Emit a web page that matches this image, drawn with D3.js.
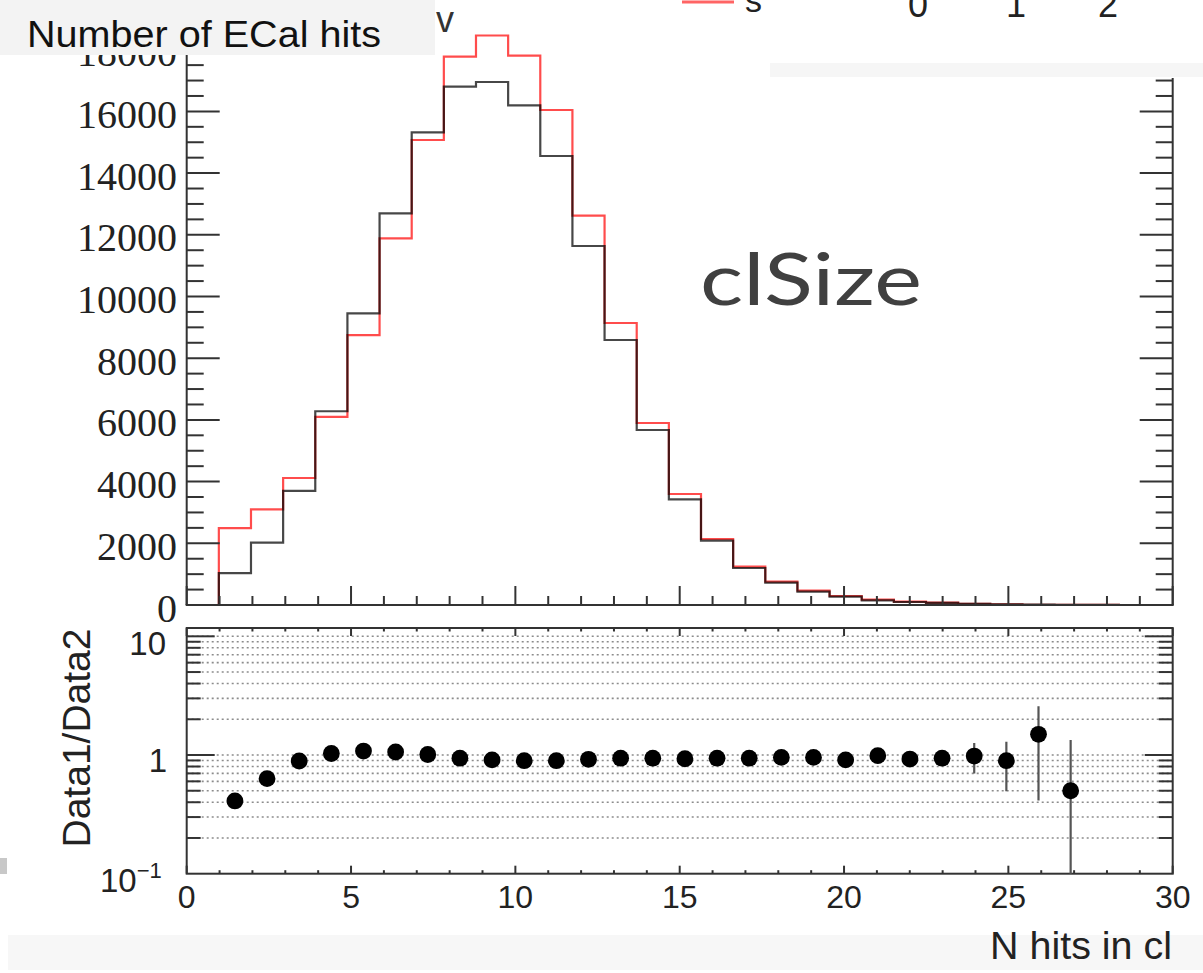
<!DOCTYPE html>
<html><head><meta charset="utf-8">
<script src="https://cdn.jsdelivr.net/npm/d3@7"></script>
<style>html,body{margin:0;padding:0;background:#fff;overflow:hidden}</style>
</head><body>
<svg id="c" width="1203" height="973" xmlns="http://www.w3.org/2000/svg"></svg>
<script>
// ---- data ----
const binWidth = 0.978;   // histogram bin width in axis units
const data1Counts = [0, 1030, 2020, 3700, 6280, 9455, 12697, 15322, 16800, 16953, 16197, 14554, 11637, 8590, 5672, 3426, 2085, 1199, 723, 431, 270, 152, 98, 68, 38, 22, 12, 4, 2, 0, 0];
const data2Counts = [0, 2490, 3100, 4117, 6100, 8750, 11886, 15073, 17774, 18460, 17807, 16045, 12620, 9141, 5900, 3598, 2139, 1242, 756, 464, 292, 173, 108, 75, 40, 25, 8, 8, 1, 0, 0];
const ratioBins   = [1,2,3,4,5,6,7,8,9,10,11,12,13,14,15,16,17,18,19,20,21,22,23,24,25,26,27];
const ratioValues = [0.41,0.632,0.89,1.03,1.08,1.06,1.01,0.94,0.91,0.895,0.895,0.92,0.94,0.94,0.93,0.94,0.94,0.955,0.955,0.91,0.987,0.925,0.94,0.98,0.895,1.494,0.5];
const ratioErrors = [0.015,0.02,0.02,0.02,0.015,0.015,0.012,0.012,0.011,0.011,0.012,0.013,0.015,0.018,0.023,0.03,0.04,0.05,0.06,0.07,0.08,0.1,0.12,0.28,0.40,1.08,0.84];
const xTickLabels = [0,5,10,15,20,25,30];
const topYTickLabels = [0,2000,4000,6000,8000,10000,12000,14000,16000,18000];
const ratioGridValues = [0.2,0.3,0.4,0.5,0.6,0.7,0.8,0.9,1,2,3,4,5,6,7,8,9,10];
const titleText = "Number of ECal hits";
const xAxisTitle = "N hits in cl";
const ratioAxisTitle = "Data1/Data2";
const overlayText = "clSize";
const legendDigits = ["0","1","2"];

// ---- scales ----
const svg = d3.select("#c");
const X0 = 186.7, X1 = 1172.7;
const x = d3.scaleLinear().domain([0, 30]).range([X0, X1]);
const yTop = d3.scaleLinear().domain([0, 19708]).range([605, -3]);
const yR = d3.scaleLog().domain([0.1, 11.75]).range([873.7, 628]);
const frameCol = "#333";

svg.append("rect").attr("width",1203).attr("height",973).attr("fill","#fff");

const defs = svg.append("defs");
defs.append("clipPath").attr("id","clipTop").append("rect")
  .attr("x",X0).attr("y",-10).attr("width",X1-X0).attr("height",615);
defs.append("clipPath").attr("id","clipR").append("rect")
  .attr("x",X0).attr("y",628).attr("width",X1-X0).attr("height",873.7-628);

// ---- top panel histograms ----
function stepPoints(counts){
  const pts = counts.map((c,i)=>[i*binWidth, c]);
  pts.push([counts.length*binWidth, counts[counts.length-1]]);
  return pts;
}
const line = d3.line().x(d=>x(d[0])).y(d=>yTop(d[1])).curve(d3.curveStepAfter);
const gh = svg.append("g").attr("clip-path","url(#clipTop)");
gh.append("path").attr("d", line(stepPoints(data2Counts)))
  .attr("fill","none").attr("stroke","#ff0000").attr("stroke-opacity",0.7).attr("stroke-width",2.2);
gh.append("path").attr("d", line(stepPoints(data1Counts)))
  .attr("fill","none").attr("stroke","#000").attr("stroke-opacity",0.72).attr("stroke-width",2.2);

// top panel frame (left, right, bottom)
const gt = svg.append("g").attr("stroke",frameCol).attr("stroke-width",2).attr("fill","none");
gt.append("line").attr("x1",X0).attr("x2",X0).attr("y1",yTop.range()[1]).attr("y2",605);
gt.append("line").attr("x1",X1).attr("x2",X1).attr("y1",yTop.range()[1]).attr("y2",605);
gt.append("line").attr("x1",X0-1).attr("x2",X1+1).attr("y1",605).attr("y2",605);

// top y ticks (minor every 500, major every 2000)
const yMinor = d3.range(0, 19501, 500);
yMinor.forEach(v=>{
  const len = (v % 2000 === 0) ? 33 : 17;
  gt.append("line").attr("x1",X0).attr("x2",X0+len).attr("y1",yTop(v)).attr("y2",yTop(v));
  gt.append("line").attr("x1",X1).attr("x2",X1-len).attr("y1",yTop(v)).attr("y2",yTop(v));
});
// top x ticks
d3.range(0, 31, 1).forEach(v=>{
  const len = (v % 5 === 0) ? 19 : 9;
  gt.append("line").attr("x1",x(v)).attr("x2",x(v)).attr("y1",605).attr("y2",605-len);
});
svg.append("g").selectAll("text").data(topYTickLabels).join("text")
  .attr("x",177).attr("y",d=>yTop(d)+16.5).attr("text-anchor","end")
  .attr("font-family","'Liberation Serif', 'DejaVu Serif', serif").attr("font-size",40)
  .attr("fill","#222").text(d=>d);

// ---- ratio panel ----
const gr = svg.append("g");
gr.selectAll("line.grid").data(ratioGridValues).join("line").attr("class","grid")
  .attr("x1",X0).attr("x2",X1).attr("y1",d=>yR(d)).attr("y2",d=>yR(d))
  .attr("stroke","#8c8c8c").attr("stroke-width",1.6).attr("stroke-dasharray","2,3");
gr.append("rect").attr("x",X0).attr("y",628).attr("width",X1-X0).attr("height",873.7-628)
  .attr("fill","none").attr("stroke",frameCol).attr("stroke-width",2);
ratioGridValues.forEach(v=>{
  const len = (v===1||v===10) ? 28 : 14;
  gr.append("line").attr("x1",X0).attr("x2",X0+len).attr("y1",yR(v)).attr("y2",yR(v)).attr("stroke",frameCol).attr("stroke-width",2);
  gr.append("line").attr("x1",X1).attr("x2",X1-len).attr("y1",yR(v)).attr("y2",yR(v)).attr("stroke",frameCol).attr("stroke-width",2);
});
d3.range(0,31,1).forEach(v=>{
  const len = (v % 5 === 0) ? 8 : 3.5;
  gr.append("line").attr("x1",x(v)).attr("x2",x(v)).attr("y1",873.7).attr("y2",873.7-len).attr("stroke",frameCol).attr("stroke-width",2);
  gr.append("line").attr("x1",x(v)).attr("x2",x(v)).attr("y1",628).attr("y2",628+len).attr("stroke",frameCol).attr("stroke-width",2);
});
const gp = svg.append("g").attr("clip-path","url(#clipR)");
ratioBins.forEach((b,i)=>{
  const cx = x((b+0.5)*binWidth);
  const lo = Math.max(ratioValues[i]-ratioErrors[i], 0.05);
  gp.append("line").attr("x1",cx).attr("x2",cx)
    .attr("y1",yR(ratioValues[i]+ratioErrors[i])).attr("y2",yR(lo))
    .attr("stroke","#555").attr("stroke-width",2.2);
});
svg.append("g").selectAll("circle").data(ratioBins).join("circle")
  .attr("cx",b=>x((b+0.5)*binWidth)).attr("cy",(b,i)=>yR(ratioValues[i])).attr("r",8.4).attr("fill","#000");

const sans = "'Liberation Sans', Arial, Helvetica, sans-serif";
svg.append("text").attr("x",166).attr("y",yR(10)+18.7).attr("text-anchor","end")
  .attr("font-family",sans).attr("font-size",33).attr("fill","#222").text("10");
svg.append("text").attr("x",167).attr("y",yR(1)+16.7).attr("text-anchor","end")
  .attr("font-family",sans).attr("font-size",33).attr("fill","#222").text("1");
const t01 = svg.append("text").attr("x",100).attr("y",yR(0.1)+18).attr("font-family",sans).attr("font-size",33).attr("fill","#222");
t01.append("tspan").text("10");
t01.append("tspan").attr("dy",-14).attr("font-size",22).text("\u22121");

svg.append("g").selectAll("text").data(xTickLabels).join("text")
  .attr("x",d=>x(d)).attr("y",908).attr("text-anchor","middle")
  .attr("font-family",sans).attr("font-size",32).attr("fill","#222").text(d=>d);

svg.append("text").attr("transform","translate(90,738) rotate(-90)").attr("text-anchor","middle")
  .attr("font-family",sans).attr("font-size",39).attr("fill","#222").text(ratioAxisTitle);

// ---- slide overlays ----
svg.append("rect").attr("x",600).attr("y",0).attr("width",603).attr("height",78).attr("fill","#fff");
svg.append("rect").attr("x",770).attr("y",63).attr("width",433).attr("height",14).attr("fill","#f6f6f6");
svg.append("line").attr("x1",682).attr("x2",734).attr("y1",2).attr("y2",2).attr("stroke","#ff6464").attr("stroke-width",3);
svg.append("text").attr("x",745).attr("y",12).attr("font-family",sans).attr("font-size",34).attr("fill","#222").text("s");
svg.append("g").selectAll("text").data(legendDigits).join("text")
  .attr("x",(d,i)=>[918,1016,1108][i]).attr("y",17).attr("text-anchor","middle")
  .attr("font-family",sans).attr("font-size",36).attr("fill","#222").text(d=>d);

svg.append("rect").attr("x",0).attr("y",0).attr("width",435).attr("height",55).attr("fill","#f3f3f3");
svg.append("rect").attr("x",435).attr("y",0).attr("width",165).attr("height",6).attr("fill","#fff");
svg.append("text").attr("x",27).attr("y",46.5).attr("textLength",354).attr("lengthAdjust","spacingAndGlyphs")
  .attr("font-family",sans).attr("font-size",37).attr("fill","#111").text(titleText);
svg.append("text").attr("x",436).attr("y",32).attr("font-family",sans).attr("font-size",36).attr("fill","#333").text("v");

svg.append("rect").attr("x",8).attr("y",935).attr("width",1195).attr("height",35).attr("fill","#f7f7f7");
svg.append("text").attr("x",1172).attr("y",959).attr("text-anchor","end").attr("textLength",182).attr("lengthAdjust","spacingAndGlyphs")
  .attr("font-family",sans).attr("font-size",38).attr("fill","#222").text(xAxisTitle);
svg.append("rect").attr("x",0).attr("y",858).attr("width",7).attr("height",16).attr("fill","#c8c8c8");

svg.append("text").attr("x",700).attr("y",305).attr("textLength",222).attr("lengthAdjust","spacingAndGlyphs")
  .attr("font-family","Lato, 'Open Sans', sans-serif").attr("font-size",72).attr("fill","#404040").text(overlayText);
</script>
</body></html>
